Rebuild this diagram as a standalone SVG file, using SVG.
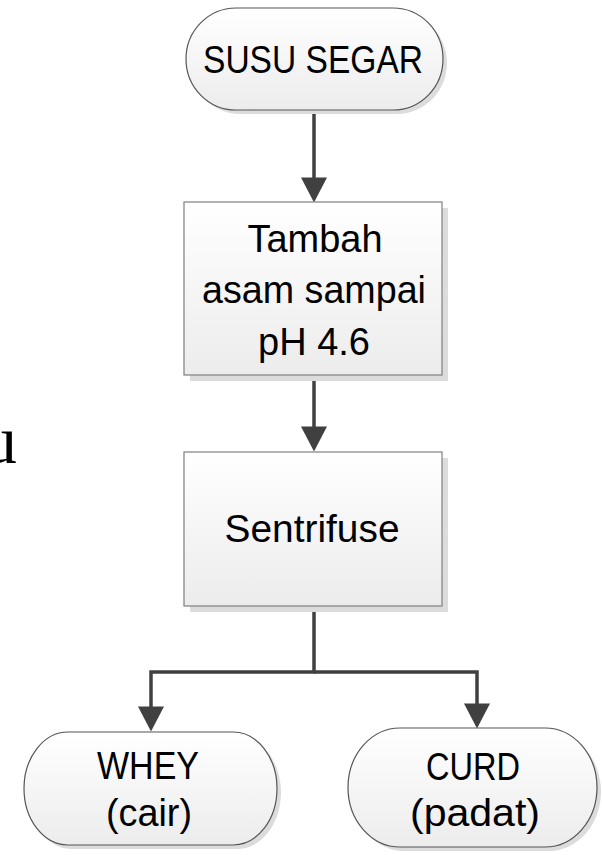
<svg xmlns="http://www.w3.org/2000/svg" width="602" height="855" viewBox="0 0 602 855">
  <defs>
    <linearGradient id="fillg" x1="0" y1="0" x2="0" y2="1">
      <stop offset="0" stop-color="#ffffff"/>
      <stop offset="1" stop-color="#ececec"/>
    </linearGradient>
    <marker id="ah" markerUnits="userSpaceOnUse" markerWidth="26" markerHeight="26" viewBox="0 0 24 25" refX="14" refY="12.5" orient="auto">
      <path d="M0,0 L24,12.5 L0,25 Z" fill="#404040"/>
    </marker>
  </defs>
  <style>
    .shadow { fill: #dcdcdc; }
    .box { fill: url(#fillg); stroke: #7f7f7f; stroke-width: 1.2; }
    .term { fill: url(#fillg); stroke: #555555; stroke-width: 1.2; }
    .lbl { font-family: "Liberation Sans", Arial, sans-serif; font-size: 38px; fill: #000000; text-anchor: middle; }
    .conn { fill: none; stroke: #404040; stroke-width: 3.5; stroke-linejoin: miter; marker-end: url(#ah); }
  </style>
  <rect width="602" height="855" fill="#ffffff"/>

  <text x="-17" y="463" font-family="'Liberation Serif', 'Times New Roman', serif" font-size="68" fill="#000000">u</text>

  <g id="connectors">
    <path class="conn" d="M314,110 V192"/>
    <path class="conn" d="M314,375 V441"/>
    <path class="conn" d="M314,606 V672 H151 V721"/>
    <path class="conn" d="M314,672 H477 V718"/>
  </g>

  <g id="susu-segar">
    <path class="shadow" d="M240,12 H397 A50,51 0 0 1 397,114 H240 A50,51 0 0 1 240,12 Z"/>
    <path class="term" d="M236,8 H393 A50,51 0 0 1 393,110 H236 A50,51 0 0 1 236,8 Z"/>
    <text class="lbl" x="313" y="73" textLength="220" lengthAdjust="spacingAndGlyphs">SUSU SEGAR</text>
  </g>

  <g id="tambah-asam">
    <rect class="shadow" x="190" y="208" width="258" height="173"/>
    <rect class="box" x="184" y="202" width="258" height="173"/>
    <text class="lbl" x="315" y="252" textLength="135" lengthAdjust="spacingAndGlyphs">Tambah</text>
    <text class="lbl" x="314" y="303" textLength="224" lengthAdjust="spacingAndGlyphs">asam sampai</text>
    <text class="lbl" x="314" y="355" textLength="112" lengthAdjust="spacingAndGlyphs">pH 4.6</text>
  </g>

  <g id="sentrifuse">
    <rect class="shadow" x="190" y="458" width="258" height="154"/>
    <rect class="box" x="184" y="452" width="258" height="154"/>
    <text class="lbl" x="312" y="542" textLength="175" lengthAdjust="spacingAndGlyphs">Sentrifuse</text>
  </g>

  <g id="whey">
    <path class="shadow" d="M72,736 H237 A44,56.5 0 0 1 237,849 H72 A44,56.5 0 0 1 72,736 Z"/>
    <path class="term" d="M68,732 H233 A44,56.5 0 0 1 233,845 H68 A44,56.5 0 0 1 68,732 Z"/>
    <text class="lbl" x="148" y="779" textLength="102" lengthAdjust="spacingAndGlyphs">WHEY</text>
    <text class="lbl" x="149" y="826" textLength="86" lengthAdjust="spacingAndGlyphs">(cair)</text>
  </g>

  <g id="curd">
    <path class="shadow" d="M404,732 H549 A52,59.5 0 0 1 549,851 H404 A52,59.5 0 0 1 404,732 Z"/>
    <path class="term" d="M400,728 H545 A52,59.5 0 0 1 545,847 H400 A52,59.5 0 0 1 400,728 Z"/>
    <text class="lbl" x="473" y="780" textLength="94" lengthAdjust="spacingAndGlyphs">CURD</text>
    <text class="lbl" x="475" y="826" textLength="130" lengthAdjust="spacingAndGlyphs">(padat)</text>
  </g>
</svg>
